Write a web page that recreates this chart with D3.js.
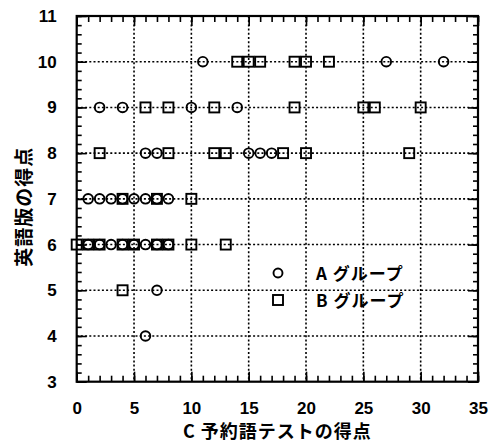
<!DOCTYPE html>
<html lang="ja">
<head>
  <meta charset="UTF-8">
  <title>C予約語テストと英語版の得点</title>
  <script src="https://d3js.org/d3.v7.min.js"></script>
  <style>
    body { margin: 0; background: #fff; }
    .tick text { font-family: "Liberation Sans", Arial, sans-serif; font-weight: bold; font-size: 17px; fill: #000; }
    .jp { font-family: "Noto Sans CJK JP", sans-serif; font-weight: bold; fill: #000; }
  </style>
</head>
<body>
<script>
// data: A group (circles) and B group (squares), x = C test score, y = English version score
const groupA_x = [11, 27, 32,
                  2, 4, 10, 14,
                  6, 7, 15, 16, 17,
                  1, 2, 3, 4, 5, 6, 7, 8,
                  1, 2, 3, 4, 5, 6, 7, 8,
                  7,
                  6];
const groupA_y = [10, 10, 10,
                  9, 9, 9, 9,
                  8, 8, 8, 8, 8,
                  7, 7, 7, 7, 7, 7, 7, 7,
                  6, 6, 6, 6, 6, 6, 6, 6,
                  5,
                  4];
const groupB_x = [14, 15, 16, 19, 20, 22,
                  6, 8, 12, 19, 25, 26, 30,
                  2, 8, 12, 13, 18, 20, 29,
                  4, 7, 10,
                  0, 1, 2, 4, 5, 7, 8, 10, 13,
                  4];
const groupB_y = [10, 10, 10, 10, 10, 10,
                  9, 9, 9, 9, 9, 9, 9,
                  8, 8, 8, 8, 8, 8, 8,
                  7, 7, 7,
                  6, 6, 6, 6, 6, 6, 6, 6, 6,
                  5];

const xTicks = [0, 5, 10, 15, 20, 25, 30, 35];
const yTicks = [3, 4, 5, 6, 7, 8, 9, 10, 11];
const legendLabels = ["A グループ", "B グループ"];

const width = 490, height = 446;
const mLeft = 76.7, mRight = 478, mTop = 16, mBottom = 381.7;

const svg = d3.select("body").append("svg")
  .attr("width", width)
  .attr("height", height);

const x = d3.scaleLinear().domain([0, 35]).range([mLeft, mRight]);
const y = d3.scaleLinear().domain([3, 11]).range([mBottom, mTop]);

// dotted grid
const grid = svg.append("g")
  .attr("stroke", "#000")
  .attr("stroke-width", 1.6)
  .attr("stroke-dasharray", "2,2.2");
grid.selectAll(".gx").data(xTicks.slice(1, -1)).enter().append("line")
  .attr("x1", d => x(d)).attr("x2", d => x(d))
  .attr("y1", mTop).attr("y2", mBottom);
grid.selectAll(".gy").data(yTicks.slice(1, -1)).enter().append("line")
  .attr("x1", mLeft).attr("x2", mRight)
  .attr("y1", d => y(d)).attr("y2", d => y(d));

// minor ticks
const minorX = d3.range(0, 36, 1);
const minorY = d3.range(3, 11.01, 0.2);

function styleAxis(g) {
  g.select(".domain").remove();
  g.selectAll(".tick line").attr("stroke", "#000").attr("stroke-width", 1.6);
}

svg.append("g").attr("transform", `translate(0,${mBottom})`)
  .call(d3.axisBottom(x).tickValues(minorX).tickSize(-6).tickFormat(""))
  .call(styleAxis);
svg.append("g").attr("transform", `translate(0,${mBottom})`)
  .call(d3.axisBottom(x).tickValues(xTicks).tickSize(-10).tickPadding(20).tickFormat(d3.format("d")))
  .call(styleAxis);
svg.append("g").attr("transform", `translate(0,${mTop})`)
  .call(d3.axisTop(x).tickValues(minorX).tickSize(-6).tickFormat(""))
  .call(styleAxis);
svg.append("g").attr("transform", `translate(0,${mTop})`)
  .call(d3.axisTop(x).tickValues(xTicks).tickSize(-10).tickFormat(""))
  .call(styleAxis);

svg.append("g").attr("transform", `translate(${mLeft},0)`)
  .call(d3.axisLeft(y).tickValues(minorY).tickSize(-5).tickFormat(""))
  .call(styleAxis);
svg.append("g").attr("transform", `translate(${mLeft},0)`)
  .call(d3.axisLeft(y).tickValues(yTicks).tickSize(-10).tickPadding(20).tickFormat(d3.format("d")))
  .call(styleAxis);
svg.append("g").attr("transform", `translate(${mRight},0)`)
  .call(d3.axisRight(y).tickValues(minorY).tickSize(-5).tickFormat(""))
  .call(styleAxis);
svg.append("g").attr("transform", `translate(${mRight},0)`)
  .call(d3.axisRight(y).tickValues(yTicks).tickSize(-10).tickFormat(""))
  .call(styleAxis);

// frame
svg.append("rect")
  .attr("x", mLeft).attr("y", mTop)
  .attr("width", mRight - mLeft).attr("height", mBottom - mTop)
  .attr("fill", "none").attr("stroke", "#000").attr("stroke-width", 2.2);

// points
const ptsA = groupA_x.map((d, i) => [d, groupA_y[i]]);
const ptsB = groupB_x.map((d, i) => [d, groupB_y[i]]);

svg.append("g").selectAll("circle").data(ptsA).enter().append("circle")
  .attr("cx", d => x(d[0])).attr("cy", d => y(d[1]))
  .attr("r", 4.8)
  .attr("fill", "none").attr("stroke", "#000").attr("stroke-width", 1.9);

svg.append("g").selectAll("rect").data(ptsB).enter().append("rect")
  .attr("x", d => x(d[0]) - 5).attr("y", d => y(d[1]) - 5)
  .attr("width", 10).attr("height", 10)
  .attr("fill", "none").attr("stroke", "#000").attr("stroke-width", 1.9);

// legend
const lg = svg.append("g");
lg.append("circle").attr("cx", 278).attr("cy", 273).attr("r", 4.5)
  .attr("fill", "none").attr("stroke", "#000").attr("stroke-width", 1.9);
lg.append("rect").attr("x", 273).attr("y", 295).attr("width", 10).attr("height", 10)
  .attr("fill", "none").attr("stroke", "#000").attr("stroke-width", 1.9);
lg.selectAll("text").data(legendLabels).enter().append("text")
  .attr("class", "jp")
  .attr("x", 316).attr("y", (d, i) => 280 + i * 27)
  .style("font-size", "17px")
  .style("letter-spacing", "1px")
  .text(d => d);

// axis titles
svg.append("text").attr("class", "jp")
  .attr("x", (mLeft + mRight) / 2).attr("y", 438)
  .attr("text-anchor", "middle")
  .style("font-size", "18px")
  .style("letter-spacing", "1px")
  .text("C 予約語テストの得点");

svg.append("text").attr("class", "jp")
  .attr("transform", `translate(31,${(mTop + mBottom) / 2 + 8}) rotate(-90)`)
  .attr("text-anchor", "middle")
  .style("font-size", "19px")
  .style("letter-spacing", "1px")
  .text("英語版の得点");
</script>
</body>
</html>
